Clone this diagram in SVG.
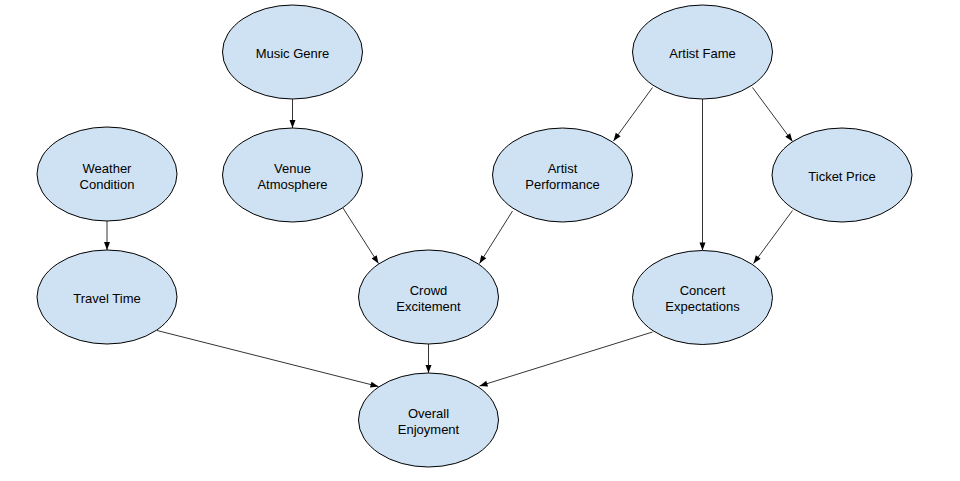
<svg xmlns="http://www.w3.org/2000/svg" width="960" height="481" viewBox="0 0 960 481">
<style>
.node ellipse{fill:#cfe2f3;stroke:#000;stroke-width:1}
.node text{font-family:"Liberation Sans",Arial,sans-serif;font-size:13px;fill:#000;text-anchor:middle}
.edge{stroke:#000;stroke-width:0.8;fill:none;marker-end:url(#arr)}
</style>
<defs>
<marker id="arr" markerUnits="userSpaceOnUse" markerWidth="10" markerHeight="10" viewBox="0 0 10 10" refX="9" refY="5" orient="auto">
<path d="M1,2 L9,5 L1,8 Z" fill="#000"/>
</marker>
</defs>
<rect width="960" height="481" fill="#fff"/>
<g id="connectors">
<line class="edge" x1="292.5" y1="99" x2="292.5" y2="128"/>
<line class="edge" x1="107" y1="221" x2="107" y2="250"/>
<line class="edge" x1="343" y1="208" x2="378.5" y2="263.5"/>
<line class="edge" x1="512.5" y1="211" x2="479.5" y2="263.5"/>
<line class="edge" x1="652.5" y1="87.5" x2="613.5" y2="141"/>
<line class="edge" x1="702.5" y1="99" x2="702.5" y2="250.5"/>
<line class="edge" x1="752.5" y1="87.5" x2="792.5" y2="141.5"/>
<line class="edge" x1="792.5" y1="210.5" x2="753.5" y2="263.5"/>
<line class="edge" x1="157" y1="330.5" x2="378.5" y2="386.5"/>
<line class="edge" x1="428.5" y1="344" x2="428.5" y2="373"/>
<line class="edge" x1="652.5" y1="332" x2="479.5" y2="386"/>
</g>
<g id="music-genre" class="node"><ellipse cx="292.5" cy="52" rx="70" ry="47"/><text x="292.5" y="58">Music Genre</text></g>
<g id="artist-fame" class="node"><ellipse cx="702.5" cy="52" rx="70" ry="47"/><text x="702.5" y="58">Artist Fame</text></g>
<g id="weather-condition" class="node"><ellipse cx="107" cy="174" rx="70" ry="47"/><text x="107" y="172.5">Weather</text><text x="107" y="188.5">Condition</text></g>
<g id="venue-atmosphere" class="node"><ellipse cx="292.5" cy="175" rx="70" ry="47"/><text x="292.5" y="172.5">Venue</text><text x="292.5" y="188.5">Atmosphere</text></g>
<g id="artist-performance" class="node"><ellipse cx="562.5" cy="175" rx="70" ry="47"/><text x="562.5" y="172.5">Artist</text><text x="562.5" y="188.5">Performance</text></g>
<g id="ticket-price" class="node"><ellipse cx="842" cy="175" rx="70" ry="47"/><text x="842" y="181">Ticket Price</text></g>
<g id="travel-time" class="node"><ellipse cx="107" cy="297" rx="70" ry="47"/><text x="107" y="302.5">Travel Time</text></g>
<g id="crowd-excitement" class="node"><ellipse cx="428.5" cy="297" rx="70" ry="47"/><text x="428.5" y="295">Crowd</text><text x="428.5" y="310.5">Excitement</text></g>
<g id="concert-expectations" class="node"><ellipse cx="702.5" cy="297.5" rx="70" ry="47"/><text x="702.5" y="295">Concert</text><text x="702.5" y="310.5">Expectations</text></g>
<g id="overall-enjoyment" class="node"><ellipse cx="428.5" cy="420" rx="70" ry="47"/><text x="428.5" y="418">Overall</text><text x="428.5" y="433.5">Enjoyment</text></g>
</svg>
